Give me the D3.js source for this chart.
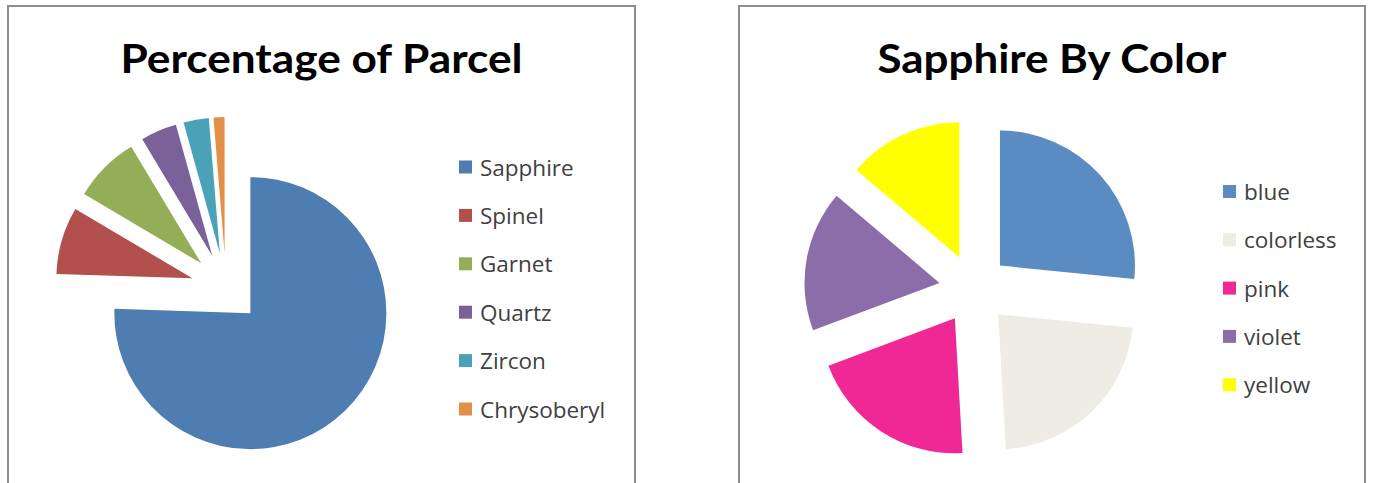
<!DOCTYPE html>
<html>
<head>
<meta charset="utf-8">
<script src="https://d3js.org/d3.v7.min.js"></script>
<style>
  body { margin: 0; background: #fff; }
</style>
</head>
<body>
<div id="my_dataviz"></div>
<script>
// chart 1: share of the parcel
var parcelTitle = "Percentage of Parcel"
var parcelNames = ["Sapphire", "Spinel", "Garnet", "Quartz", "Zircon", "Chrysoberyl"]
var parcelValues = [75.5, 8.0, 7.9, 4.3, 3.0, 1.3]
var parcelColors = ["#4e7db1", "#b1504c", "#94ae58", "#7b6199", "#4aa1b8", "#e28f48"]

// chart 2: sapphire split by colour
var colorTitle = "Sapphire By Color"
var colorNames = ["blue", "colorless", "pink", "violet", "yellow"]
var colorValues = [26.6, 22.5, 20.2, 16.9, 13.8]
var colorColors = ["#5a8bc3", "#eeece4", "#f02896", "#8b6ea9", "#ffff00"]

var width = 1373, height = 483

var svg = d3.select("#my_dataviz")
  .append("svg")
    .attr("width", width)
    .attr("height", height)
    .style("font-family", "'Open Sans', sans-serif")

function drawPanel(p) {
  var g = svg.append("g")

  // frame (runs past the bottom of the picture)
  g.append("rect")
      .attr("x", p.x0)
      .attr("y", 6)
      .attr("width", p.x1 - p.x0)
      .attr("height", 520)
      .attr("fill", "white")
      .attr("stroke", "#8e8e8e")
      .attr("stroke-width", 2)

  // title
  g.append("text")
      .attr("x", (p.x0 + p.x1) / 2)
      .attr("y", 73)
      .attr("text-anchor", "middle")
      .attr("textLength", p.titleWidth)
      .attr("lengthAdjust", "spacingAndGlyphs")
      .style("font-family", "Lato, sans-serif")
      .style("font-weight", "bold")
      .style("font-size", "41px")
      .attr("fill", "black")
      .text(p.title)

  var data = p.names.map(function(n, i) { return {name: n, value: p.values[i], color: p.colors[i]} })

  var pie = d3.pie()
    .sort(null)
    .value(function(d) { return d.value })

  var arc = d3.arc()
    .innerRadius(0)
    .outerRadius(p.r)

  // exploded slices
  var pieG = g.append("g")
    .attr("transform", "translate(" + p.cx + "," + p.cy + ")")
  pieG.selectAll("path")
    .data(pie(data))
    .enter()
    .append("path")
      .attr("d", arc)
      .attr("fill", function(d) { return d.data.color })
      .attr("transform", function(d) {
        var mid = (d.startAngle + d.endAngle) / 2
        return "translate(" + (p.explode * Math.sin(mid)) + "," + (-p.explode * Math.cos(mid)) + ")"
      })

  // legend
  var y = d3.scalePoint()
    .domain(p.names)
    .range([p.legendTop, p.legendTop + p.legendStep * (p.names.length - 1)])

  var leg = g.append("g").selectAll("g")
    .data(data)
    .enter()
    .append("g")
      .attr("transform", function(d) { return "translate(" + p.legendX + "," + y(d.name) + ")" })
  leg.append("rect")
      .attr("x", 0)
      .attr("y", -7)
      .attr("width", 13)
      .attr("height", 13)
      .attr("fill", function(d) { return d.color })
  leg.append("text")
      .attr("x", 21)
      .attr("y", 8)
      .style("font-size", "22.5px")
      .attr("fill", "#404040")
      .text(function(d) { return d.name })
}

drawPanel({
  x0: 8, x1: 635, title: parcelTitle, titleWidth: 402,
  names: parcelNames, values: parcelValues, colors: parcelColors,
  cx: 226, cy: 288, r: 136, explode: 35,
  legendX: 459, legendTop: 167.5, legendStep: 48.4
})

drawPanel({
  x0: 739, x1: 1365, title: colorTitle, titleWidth: 349,
  names: colorNames, values: colorValues, colors: colorColors,
  cx: 974, cy: 289, r: 135, explode: 35,
  legendX: 1223, legendTop: 192, legendStep: 48.3
})
</script>
</body>
</html>
